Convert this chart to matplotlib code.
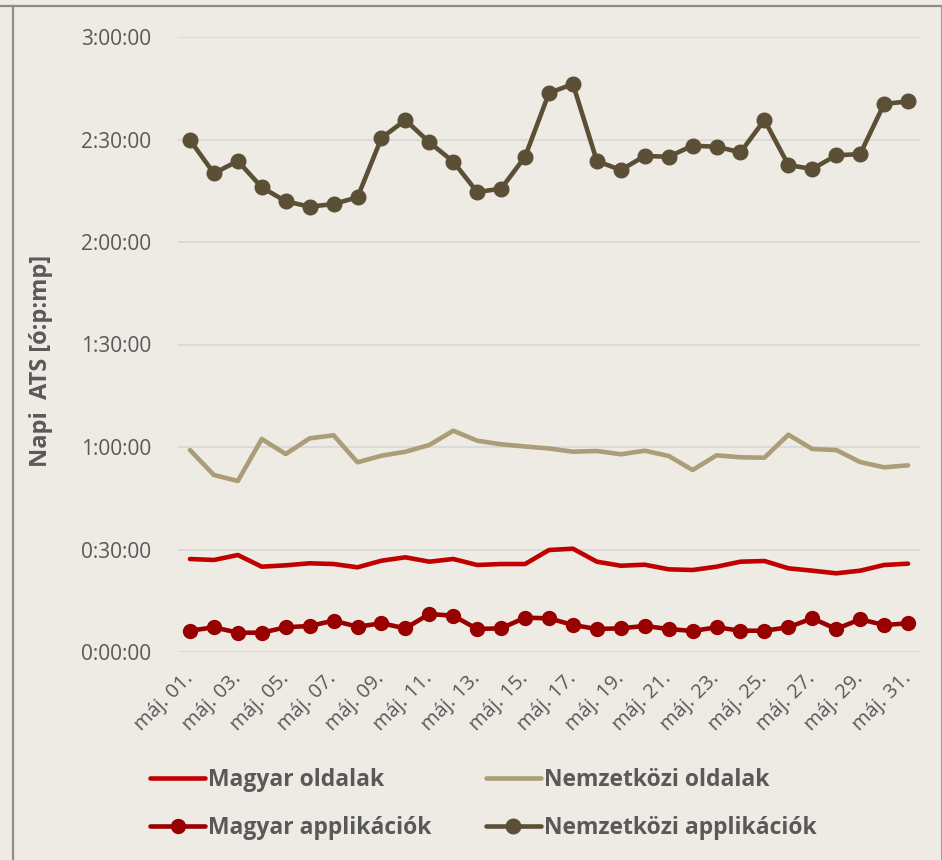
import matplotlib
matplotlib.use("Agg")
import matplotlib.pyplot as plt
from matplotlib.ticker import FuncFormatter, MultipleLocator
from matplotlib.lines import Line2D

# ---- data (seconds per day, May 1..31) ----
days = [f"máj. {d:02d}." for d in range(1, 32)]

magyar_oldalak = [1633, 1616, 1703, 1498, 1522, 1558, 1545, 1487, 1603, 1663,
                  1586, 1633, 1528, 1545, 1545, 1791, 1814, 1586, 1515, 1533,
                  1452, 1440, 1498, 1586, 1598, 1470, 1428, 1382, 1428, 1528, 1551]

nemzetkozi_oldalak = [3547, 3108, 3003, 3740, 3477, 3752, 3805, 3331, 3447, 3517,
                      3635, 3886, 3711, 3647, 3609, 3574, 3517, 3530, 3472, 3535,
                      3442, 3196, 3454, 3419, 3412, 3816, 3565, 3547, 3336, 3243, 3278]

magyar_app = [374, 434, 339, 339, 434, 457, 550, 444, 504, 416,
              667, 637, 404, 416, 602, 592, 474, 404, 416, 457,
              404, 369, 434, 374, 374, 434, 592, 404, 574, 474, 504]

nemzetkozi_app = [8991, 8406, 8622, 8160, 7915, 7820, 7867, 7985, 9026, 9342,
                  8951, 8610, 8078, 8136, 8698, 9816, 9974, 8622, 8464, 8710,
                  8698, 8891, 8873, 8775, 9342, 8552, 8482, 8722, 8745, 9623, 9670]

labels = ["Magyar oldalak", "Nemzetközi oldalak", "Magyar applikációk", "Nemzetközi applikációk"]

BG = "#EEEBE4"
TXT = "#595959"
FONT = ["Open Sans", "DejaVu Sans"]
plt.rcParams["font.family"] = FONT

fig = plt.figure(figsize=(9.42, 8.6), dpi=100, facecolor=BG)
ax = fig.add_axes([178 / 942, 1 - 652 / 860, (920 - 178) / 942, (652 - 37) / 860], facecolor=BG)

x = list(range(len(days)))
l1, = ax.plot(x, magyar_oldalak, color="#C00000", lw=3.3, solid_capstyle="round",
              solid_joinstyle="round", zorder=3)
l2, = ax.plot(x, nemzetkozi_oldalak, color="#AB9D77", lw=3.3, solid_capstyle="round",
              solid_joinstyle="round", zorder=3)
l3, = ax.plot(x, magyar_app, color="#990000", lw=3.3, marker="o", markersize=10,
              solid_capstyle="round", solid_joinstyle="round", zorder=4)
l4, = ax.plot(x, nemzetkozi_app, color="#5B4F36", lw=3.3, marker="o", markersize=10.5,
              solid_capstyle="round", solid_joinstyle="round", zorder=4)

ax.set_xlim(-0.5, len(days) - 0.5)
ax.set_ylim(0, 10800)
ax.yaxis.set_major_locator(MultipleLocator(1800))
ax.yaxis.set_major_formatter(FuncFormatter(
    lambda v, p: f"{int(v) // 3600}:{int(v) % 3600 // 60:02d}:{int(v) % 60:02d}"))
ax.grid(axis="y", color="#D9D9D9", lw=1.3)
ax.set_axisbelow(True)
for s in ax.spines.values():
    s.set_visible(False)
ax.tick_params(axis="y", length=0, pad=19, labelsize=15, labelcolor=TXT)

ax.set_xticks(x[::2])
ax.set_xticklabels(days[::2], rotation=45, ha="right", va="center", rotation_mode="anchor")
ax.tick_params(axis="x", length=0, pad=17, labelsize=14.5, labelcolor=TXT)

fig.text(41 / 942, 1 - 361 / 860, "Napi  ATS [ó:p:mp]", rotation=90, ha="center", va="center",
         fontsize=17, fontweight="bold", color=TXT)

leg = fig.legend([l1, l3, l2, l4], [labels[0], labels[2], labels[1], labels[3]],
                 ncol=2, loc="center left", bbox_to_anchor=(150 / 942, 1 - 804 / 860),
                 frameon=False, prop=dict(family=FONT, weight="bold", size=16.5),
                 labelcolor=TXT, handlelength=2.4, handletextpad=0.13,
                 columnspacing=2.36, labelspacing=1.05, borderpad=0, borderaxespad=0)

# frame lines around the chart area
fig.add_artist(Line2D([0, 1], [1 - 6 / 860] * 2, transform=fig.transFigure, color="#8C8C8C", lw=1.6))
fig.add_artist(Line2D([12.5 / 942] * 2, [0, 1 - 6 / 860], transform=fig.transFigure, color="#8C8C8C", lw=1.6))
fig.add_artist(Line2D([940.5 / 942] * 2, [0, 1 - 6 / 860], transform=fig.transFigure, color="#A0A0A0", lw=0.8))

fig.savefig("out.png", dpi=100, facecolor=BG)
